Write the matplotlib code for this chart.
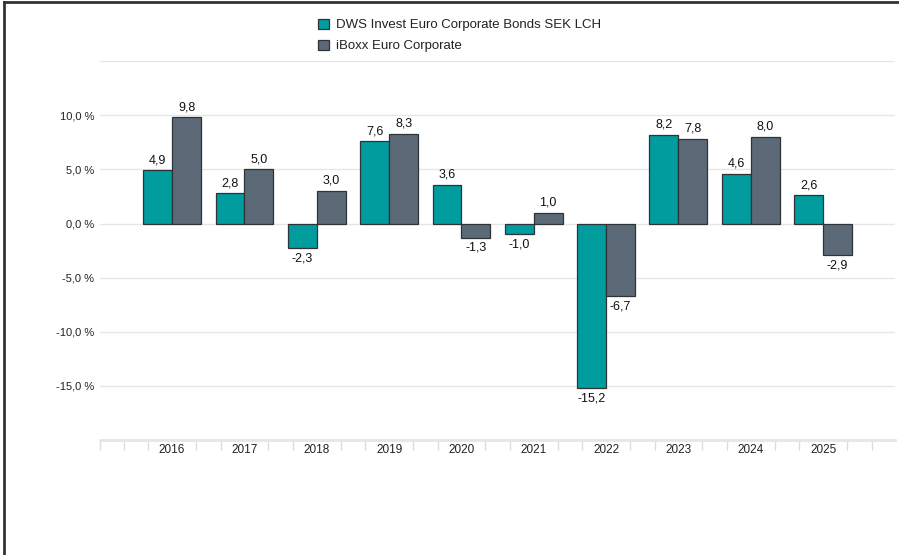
import numpy as np
import matplotlib.pyplot as plt
from matplotlib.patches import Patch

plt.rcParams['font.family'] = ['Liberation Sans', 'DejaVu Sans']

years = ["2016", "2017", "2018", "2019", "2020", "2021", "2022", "2023", "2024", "2025"]
fund = [4.9, 2.8, -2.3, 7.6, 3.6, -1.0, -15.2, 8.2, 4.6, 2.6]
index = [9.8, 5.0, 3.0, 8.3, -1.3, 1.0, -6.7, 7.8, 8.0, -2.9]
series_names = ["DWS Invest Euro Corporate Bonds SEK LCH", "iBoxx Euro Corporate"]
ytick_vals = [-15, -10, -5, 0, 5, 10]

teal = "#009C9E"
slate = "#5B6A76"
edge = "#2E3338"


def fmt(v):
    return f"{v:.1f}".replace(".", ",")


fig = plt.figure(figsize=(8.99, 5.55), dpi=100)
ax = fig.add_axes([0.111, 0.207, 0.885, 0.683])

x = np.arange(len(years))
w = 0.4
b1 = ax.bar(x - w / 2, fund, w, color=teal, edgecolor=edge, linewidth=0.9, zorder=3)
b2 = ax.bar(x + w / 2, index, w, color=slate, edgecolor=edge, linewidth=0.9, zorder=3)

# value labels
for bars, vals in ((b1, fund), (b2, index)):
    for r, v in zip(bars, vals):
        cx = r.get_x() + r.get_width() / 2
        if v >= 0:
            ax.annotate(fmt(v), (cx, v), xytext=(0, 3), textcoords="offset points",
                        ha="center", va="bottom", fontsize=9, color="#111111")
        else:
            ax.annotate(fmt(v), (cx, v), xytext=(0, -3), textcoords="offset points",
                        ha="center", va="top", fontsize=9, color="#111111")

ax.set_xlim(-1, 10)
ax.set_ylim(-20, 15)

# grid lines
for g in ytick_vals + [15]:
    ax.axhline(g, color="#e6e6e6", linewidth=1, zorder=1)

ax.set_yticks(ytick_vals)
ax.set_yticklabels([fmt(v) + " %" for v in ytick_vals])
ax.tick_params(axis="y", length=0, pad=4, labelsize=8, labelcolor="#222222")

ax.set_xticks(x)
ax.set_xticklabels(years)
ax.tick_params(axis="x", length=0, pad=3, labelsize=8.5, labelcolor="#222222")
minor = [c + d for c in range(-1, 11) for d in (-0.33, 0.33)]
minor = [m for m in minor if -1 <= m <= 10] + [-1]
ax.set_xticks(minor, minor=True)
ax.tick_params(axis="x", which="minor", length=7, width=1, color="#dcdcdc")

for s in ("top", "right", "left"):
    ax.spines[s].set_visible(False)
ax.spines["bottom"].set_color("#e6e6e6")
ax.spines["bottom"].set_linewidth(2)

handles = [Patch(facecolor=teal, edgecolor=edge, linewidth=0.9),
           Patch(facecolor=slate, edgecolor=edge, linewidth=0.9)]
fig.legend(handles, series_names, loc="upper left", bbox_to_anchor=(0.341, 0.988),
           frameon=False, fontsize=9.5, handlelength=0.8, handleheight=0.8,
           handletextpad=0.5, labelspacing=0.65, labelcolor="#222222")

# frame lines on left and top of the image
fig.add_artist(plt.Line2D([0.005, 0.005], [0, 0.996], color="#333333", linewidth=2,
                          transform=fig.transFigure))
fig.add_artist(plt.Line2D([0.005, 1], [0.996, 0.996], color="#333333", linewidth=2,
                          transform=fig.transFigure))

fig.savefig("out.png", dpi=100)
